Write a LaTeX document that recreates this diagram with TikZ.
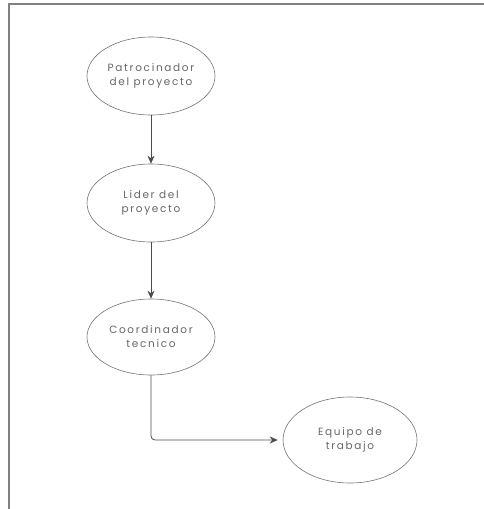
\documentclass[tikz,border=0pt]{standalone}
\usepackage{fontspec}
\setmainfont[LetterSpace=16]{Poppins}
\usetikzlibrary{shapes.geometric,arrows.meta}

\begin{document}
\begin{tikzpicture}[x=1pt,y=-1pt,
  cargo/.style={ellipse,draw=black!55,line width=0.6pt,minimum width=128pt,minimum height=78pt,
    inner sep=0pt,align=center,text=black!60,font=\fontsize{10.5}{14}\selectfont},
  enlace/.style={draw=black!70,line width=0.8pt,-{Stealth[length=8pt,width=7pt]}}]
\useasboundingbox (0,0) rectangle (484,509);
\draw[gray,line width=1.2pt] (484,4) -- (9,4) -- (9,509);
\node[cargo] (patrocinador) at (151,76) {Patrocinador\\del proyecto};
\node[cargo] (lider) at (151,203) {Lider del\\proyecto};
\node[cargo,minimum height=76pt] (coordinador) at (151,337) {Coordinador\\tecnico};
\node[cargo,minimum width=134pt,minimum height=86pt] (equipo) at (350,440) {Equipo de\\trabajo};
\draw[enlace] (patrocinador) -- (lider);
\draw[enlace] (lider) -- (coordinador);
\draw[enlace,rounded corners=4pt,shorten >=5pt] (coordinador) |- (equipo);
\end{tikzpicture}
\end{document}
